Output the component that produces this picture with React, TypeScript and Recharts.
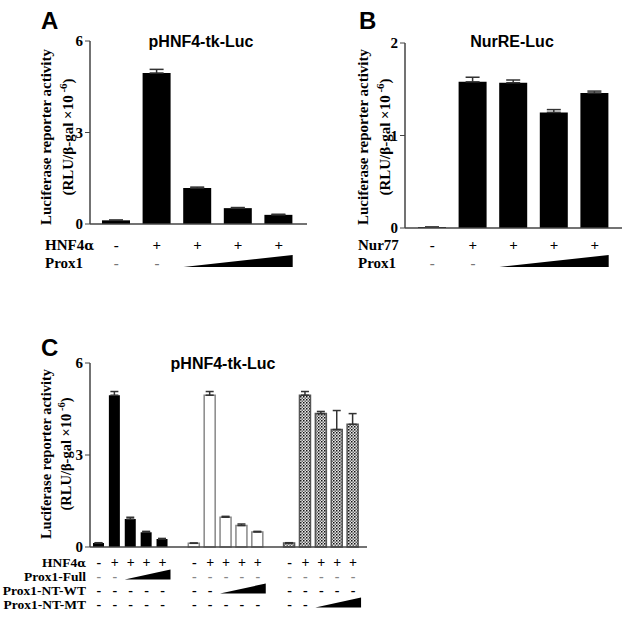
import React from 'react';
import { BarChart, Bar, XAxis, YAxis, ErrorBar, Cell } from 'recharts';

const SERIF = '"Liberation Serif", "Times New Roman", serif';
const SANS = '"Liberation Sans", Arial, sans-serif';
const AXIS = '#444';

// ---------- Panel A : pHNF4-tk-Luc ----------
const catsA = ['A1', 'A2', 'A3', 'A4', 'A5'];
const valsA = [0.12, 4.95, 1.18, 0.52, 0.3];
const errA = [0.01, 0.12, 0.03, 0.02, 0.02];
const hnfA = ['-', '+', '+', '+', '+'];
const proxA = ['-', '-', 'w', 'w', 'w'];
const ticksA = [0, 3, 6];

// ---------- Panel B : NurRE-Luc ----------
const catsB = ['B1', 'B2', 'B3', 'B4', 'B5'];
const valsB = [0.01, 1.58, 1.57, 1.25, 1.46];
const errB = [0, 0.05, 0.03, 0.03, 0.02];
const nurB = ['-', '+', '+', '+', '+'];
const proxB = ['-', '-', 'w', 'w', 'w'];
const ticksB = [0, 1, 2];

// ---------- Panel C : pHNF4-tk-Luc (three Prox1 forms) ----------
const catsC = ['C1', 'C2', 'C3', 'C4', 'C5', 'gap1', 'C6', 'C7', 'C8', 'C9', 'C10', 'gap2', 'C11', 'C12', 'C13', 'C14', 'C15'];
const valsC = [0.13, 4.95, 0.91, 0.48, 0.26, null, 0.12, 4.95, 0.97, 0.7, 0.49, null, 0.13, 4.95, 4.35, 3.83, 4.0];
const errC = [0.01, 0.12, 0.06, 0.03, 0.02, 0, 0.01, 0.12, 0.03, 0.05, 0.02, 0, 0.01, 0.12, 0.07, 0.62, 0.35];
const groupC = ['full', 'full', 'full', 'full', 'full', '', 'wt', 'wt', 'wt', 'wt', 'wt', '', 'mt', 'mt', 'mt', 'mt', 'mt'];
const hnfC = ['-', '+', '+', '+', '+', '', '-', '+', '+', '+', '+', '', '-', '+', '+', '+', '+'];
const fullC = ['-', '-', 'w', 'w', 'w', '', '-', '-', '-', '-', '-', '', '-', '-', '-', '-', '-'];
const ntwtC = ['-', '-', '-', '-', '-', '', '-', '-', 'w', 'w', 'w', '', '-', '-', '-', '-', '-'];
const ntmtC = ['-', '-', '-', '-', '-', '', '-', '-', '-', '-', '-', '', '-', '-', 'w', 'w', 'w'];
const ticksC = [0, 3, 6];

const dataA = catsA.map((c, i) => ({ cat: c, v: valsA[i], e: [0, errA[i]] }));
const dataB = catsB.map((c, i) => ({ cat: c, v: valsB[i], e: [0, errB[i]] }));
const dataC = catsC.map((c, i) => ({ cat: c, v: valsC[i], e: [0, errC[i]], g: groupC[i] }));

const fillFor = (g: string) => (g === 'full' ? '#000' : g === 'wt' ? '#fff' : 'url(#checker)');
const strokeFor = (g: string) => (g === 'full' ? '#000' : g === 'wt' ? '#888' : '#555');

type RowSpec = { row: string[]; dy: number; color?: string };

function makeTick(rows: RowSpec[], step: number, wl: number, wr: number, wh: number, fs: number) {
  return (props: any) => {
    const { x, y, index } = props;
    return (
      <g>
        {rows.map((r, ri) => {
          const s = r.row[index];
          const ry = y + r.dy;
          if (!s) return null;
          if (s === 'w') {
            if (index > 0 && r.row[index - 1] === 'w') return null;
            let n = 0;
            while (r.row[index + n] === 'w') n++;
            const x1 = x - wl;
            const x2 = x + (n - 1) * step + wr;
            return <polygon key={ri} points={`${x1},${ry - 1} ${x2},${ry - 1} ${x2},${ry - 1 - wh}`} fill="#000" />;
          }
          return (
            <text key={ri} x={x} y={ry} textAnchor="middle" fontFamily={SERIF} fontWeight="bold" fontSize={fs} fill={s === '-' && r.color ? r.color : '#000'}>
              {s === '-' ? '-' : '+'}
            </text>
          );
        })}
      </g>
    );
  };
}

function makeRowLabels(labels: { text: React.ReactNode; dy: number }[], dx: number, anchor: 'start' | 'end', fs: number) {
  return (props: any) => {
    const vb = props.viewBox || {};
    return (
      <g>
        {labels.map((l, i) => (
          <text key={i} x={vb.x + dx} y={vb.y + l.dy} textAnchor={anchor} fontFamily={SERIF} fontWeight="bold" fontSize={fs} fill="#000">
            {l.text}
          </text>
        ))}
      </g>
    );
  };
}

function makeYLabel(dx1: number, dx2: number, dcy: number, fs: number) {
  return (props: any) => {
    const vb = props.viewBox || {};
    const cy = vb.y + vb.height / 2 + dcy;
    const x1 = vb.x + dx1;
    const x2 = vb.x + dx2;
    return (
      <g>
        <text transform={`rotate(-90 ${x1} ${cy})`} x={x1} y={cy} textAnchor="middle" fontFamily={SERIF} fontWeight="bold" fontSize={fs} fill="#000">
          Luciferase reporter activity
        </text>
        <text transform={`rotate(-90 ${x2} ${cy})`} x={x2} y={cy} textAnchor="middle" fontFamily={SERIF} fontWeight="bold" fontSize={fs} fill="#000">
          (RLU/β-gal ×10
          <tspan dy={-6} fontSize={fs - 4}> -6</tspan>
          <tspan dy={6}>)</tspan>
        </text>
      </g>
    );
  };
}

const yTick = { fontFamily: SERIF, fontWeight: 'bold', fontSize: 15, fill: '#000' } as any;

const HNF = (fs: number) => (
  <>
    HNF4<tspan fontFamily='"DejaVu Serif", serif' fontSize={fs - 2}>α</tspan>
  </>
);

export default function App() {
  const wA = 320, hA = 290;
  const mA = { top: 41, right: 13, bottom: 16, left: 50 };
  const padA = { left: 6, right: 8 };
  const plotWA = wA - mA.left - 40 - mA.right;
  const stepA = (plotWA - padA.left - padA.right) / catsA.length;

  const wB = 314, hB = 290;
  const mB = { top: 43, right: 12, bottom: 12, left: 45 };
  const padB = { left: 7, right: 7 };
  const plotWB = wB - mB.left - 40 - mB.right;
  const stepB = (plotWB - padB.left - padB.right) / catsB.length;

  const wC = 380, hC = 291;
  const mC = { top: 33, right: 13, bottom: 24, left: 50 };
  const padC = { left: 1, right: 6 };
  const plotWC = wC - mC.left - 40 - mC.right;
  const stepC = (plotWC - padC.left - padC.right) / catsC.length;

  return (
    <div style={{ position: 'absolute', left: 0, top: 0, width: 634, height: 621, background: '#fff' }}>
      <svg width={634} height={621} style={{ position: 'absolute', left: 0, top: 0 }}>
        <text x={41} y={29} fontFamily={SANS} fontWeight="bold" fontSize={24} fill="#000">A</text>
        <text x={359} y={29} fontFamily={SANS} fontWeight="bold" fontSize={24} fill="#000">B</text>
        <text x={41} y={356} fontFamily={SANS} fontWeight="bold" fontSize={24} fill="#000">C</text>
        <text x={201} y={47} textAnchor="middle" fontFamily={SANS} fontWeight="bold" fontSize={16} fill="#000">pHNF4-tk-Luc</text>
        <text x={512} y={47} textAnchor="middle" fontFamily={SANS} fontWeight="bold" fontSize={16} fill="#000">NurRE-Luc</text>
        <text x={223} y={369} textAnchor="middle" fontFamily={SANS} fontWeight="bold" fontSize={16} fill="#000">pHNF4-tk-Luc</text>
      </svg>

      <div style={{ position: 'absolute', left: 0, top: 0 }}>
        <BarChart width={wA} height={hA} data={dataA} margin={mA} barCategoryGap={0}>
          <XAxis
            dataKey="cat"
            interval={0}
            tickLine={false}
            tickSize={0}
            tickMargin={0}
            height={50}
            padding={padA}
            axisLine={{ stroke: AXIS, strokeWidth: 1.5 }}
            tick={makeTick([{ row: hnfA, dy: 26 }, { row: proxA, dy: 44, color: '#777' }], stepA, 14, 14, 12, 15)}
            label={{ content: makeRowLabels([{ text: HNF(15), dy: 26 }, { text: 'Prox1', dy: 44 }], -45, 'start', 15) } as any}
          />
          <YAxis
            width={40}
            domain={[0, 6]}
            ticks={ticksA}
            tickSize={5}
            tickMargin={2}
            tick={yTick}
            axisLine={{ stroke: AXIS, strokeWidth: 1.5 }}
            tickLine={{ stroke: AXIS }}
            label={{ content: makeYLabel(1, 23, 4.5, 15) } as any}
          />
          <Bar dataKey="v" fill="#000" barSize={28} isAnimationActive={false}>
            <ErrorBar dataKey="e" width={7} stroke="#333" strokeWidth={1.5} direction="y" />
          </Bar>
        </BarChart>
      </div>

      <div style={{ position: 'absolute', left: 320, top: 0 }}>
        <BarChart width={wB} height={hB} data={dataB} margin={mB} barCategoryGap={0}>
          <XAxis
            dataKey="cat"
            interval={0}
            tickLine={false}
            tickSize={0}
            tickMargin={0}
            height={50}
            padding={padB}
            axisLine={{ stroke: AXIS, strokeWidth: 1.5 }}
            tick={makeTick([{ row: nurB, dy: 22 }, { row: proxB, dy: 40, color: '#777' }], stepB, 14, 14, 12, 15)}
            label={{ content: makeRowLabels([{ text: 'Nur77', dy: 22 }, { text: 'Prox1', dy: 40 }], -47, 'start', 15) } as any}
          />
          <YAxis
            width={40}
            domain={[0, 2]}
            ticks={ticksB}
            tickSize={5}
            tickMargin={2}
            tick={yTick}
            axisLine={{ stroke: AXIS, strokeWidth: 1.5 }}
            tickLine={{ stroke: AXIS }}
            label={{ content: makeYLabel(3, 25, 1.5, 15) } as any}
          />
          <Bar dataKey="v" fill="#000" barSize={28} isAnimationActive={false}>
            <ErrorBar dataKey="e" width={7} stroke="#333" strokeWidth={1.5} direction="y" />
          </Bar>
        </BarChart>
      </div>

      <div style={{ position: 'absolute', left: 0, top: 330 }}>
        <BarChart width={wC} height={hC} data={dataC} margin={mC} barCategoryGap={0}>
          <defs>
            <pattern id="checker" patternUnits="userSpaceOnUse" width={3} height={3}>
              <rect x={0} y={0} width={3} height={3} fill="#e8e8e8" />
              <rect x={0} y={0} width={1.5} height={1.5} fill="#111" />
              <rect x={1.5} y={1.5} width={1.5} height={1.5} fill="#666" />
            </pattern>
          </defs>
          <XAxis
            dataKey="cat"
            interval={0}
            tickLine={false}
            tickSize={0}
            tickMargin={0}
            height={50}
            padding={padC}
            axisLine={{ stroke: AXIS, strokeWidth: 1.5 }}
            tick={makeTick(
              [
                { row: hnfC, dy: 19.5 },
                { row: fullC, dy: 33.5, color: '#888' },
                { row: ntwtC, dy: 47.5 },
                { row: ntmtC, dy: 61.5 },
              ],
              stepC, 6, 8, 10, 14
            )}
            label={{
              content: makeRowLabels(
                [
                  { text: HNF(13.5), dy: 19.5 },
                  { text: 'Prox1-Full', dy: 33.5 },
                  { text: 'Prox1-NT-WT', dy: 47.5 },
                  { text: 'Prox1-NT-MT', dy: 61.5 },
                ],
                -4, 'end', 13.5
              ),
            } as any}
          />
          <YAxis
            width={40}
            domain={[0, 6]}
            ticks={ticksC}
            tickSize={5}
            tickMargin={2}
            tick={yTick}
            axisLine={{ stroke: AXIS, strokeWidth: 1.5 }}
            tickLine={{ stroke: AXIS }}
            label={{ content: makeYLabel(1, 21, -1, 14.5) } as any}
          />
          <Bar dataKey="v" barSize={11} isAnimationActive={false}>
            {dataC.map((d, i) => (
              <Cell key={i} fill={fillFor(d.g)} stroke={strokeFor(d.g)} strokeWidth={d.g === 'full' ? 0 : 1.5} />
            ))}
            <ErrorBar dataKey="e" width={4} stroke="#333" strokeWidth={1.5} direction="y" />
          </Bar>
        </BarChart>
      </div>
    </div>
  );
}
